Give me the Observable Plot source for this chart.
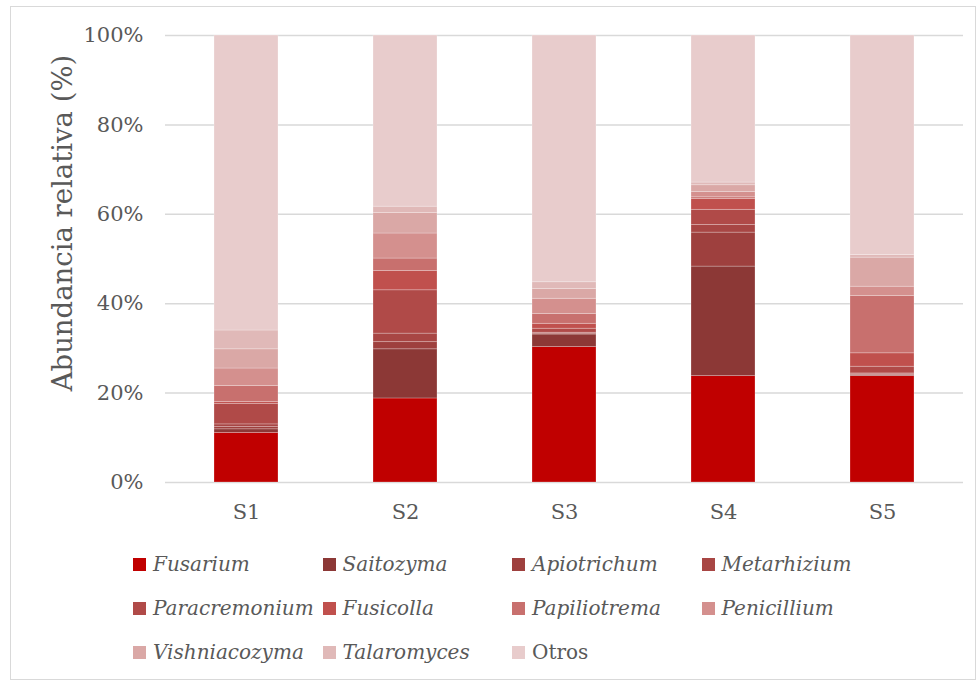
<!DOCTYPE html>
<html>
<head>
<meta charset="utf-8">
<script src="https://cdn.jsdelivr.net/npm/d3@7"></script>
<script src="https://cdn.jsdelivr.net/npm/@observablehq/plot@0.6"></script>
<style>
  html, body { margin: 0; padding: 0; background: #fff; }
  #wrap { position: relative; width: 980px; height: 683px; overflow: hidden; font-family: "DejaVu Serif", serif; color: #595959; }
  #frame { position: absolute; left: 10px; top: 6px; width: 966px; height: 674px; border: 1px solid #d9d9d9; box-sizing: border-box; }
  #chart { position: absolute; left: 0; top: 0; }
  #ytitle { position: absolute; left: 62px; top: 223px; transform: translate(-50%, -50%) rotate(-90deg); white-space: nowrap; font-size: 27.5px; }
  #legend { position: absolute; left: 133px; top: 0; }
  .item { position: absolute; display: flex; align-items: center; white-space: nowrap; font-size: 20px; transform: translateY(-50%); }
  .sw { width: 13px; height: 13px; margin-right: 7px; flex: none; }
  .it { font-style: italic; }
</style>
</head>
<body>
<div id="wrap">
  <div id="frame"></div>
  <div id="chart"></div>
  <div id="ytitle">Abundancia relativa (%)</div>
  <div id="legend"></div>
</div>
<script>
// Samples and genera (stacking order from bottom to top)
const samples = ["S1", "S2", "S3", "S4", "S5"];
const genera = ["Fusarium", "Saitozyma", "Apiotrichum", "Metarhizium", "Paracremonium",
  "Fusicolla", "Papiliotrema", "Penicillium", "Vishniacozyma", "Talaromyces", "Otros"];
const colors = ["#c00000", "#8c3836", "#9e403e", "#a84644", "#b04a48",
  "#c0504d", "#c8706e", "#d4908e", "#daa8a6", "#e0b9b8", "#e8cccc"];

// Relative abundance (%) per sample, S1..S5
const fusarium      = [11.1, 18.8, 30.3, 23.8, 23.8];
const saitozyma     = [0.8, 11.0, 2.8, 24.5, 0.2];
const apiotrichum   = [0.5, 1.6, 0.2, 7.6, 0.2];
const metarhizium   = [0.6, 1.9, 0.2, 1.7, 0.2];
const paracremonium = [4.6, 9.7, 0.9, 3.4, 1.5];
const fusicolla     = [0.4, 4.3, 1.1, 2.4, 3.0];
const papiliotrema  = [3.6, 2.8, 2.2, 0.4, 12.8];
const penicillium   = [3.9, 5.6, 3.4, 1.2, 2.1];
const vishniacozyma = [4.3, 4.6, 2.2, 1.5, 6.5];
const talaromyces   = [4.2, 1.4, 1.5, 0.6, 0.6];
const otros         = [66.0, 38.3, 55.2, 32.9, 49.1];

const yTicks = [0, 20, 40, 60, 80, 100];

const series = [fusarium, saitozyma, apiotrichum, metarhizium, paracremonium,
  fusicolla, papiliotrema, penicillium, vishniacozyma, talaromyces, otros];

const rows = [];
genera.forEach((g, gi) => {
  samples.forEach((s, si) => rows.push({sample: s, genus: g, value: series[gi][si]}));
});

const chart = Plot.plot({
  width: 980,
  height: 530,
  marginLeft: 165,
  marginRight: 17,
  marginTop: 35,
  marginBottom: 48,
  style: {fontFamily: "DejaVu Serif, serif", fontSize: "21px", color: "#595959", background: "transparent"},
  x: {domain: samples, paddingInner: 0.6, paddingOuter: 0.3, label: null},
  y: {domain: [0, 100], label: null},
  color: {domain: genera, range: colors},
  marks: [
    Plot.ruleY(yTicks, {stroke: "#d9d9d9", strokeWidth: 1.5}),
    Plot.barY(rows, {x: "sample", y: "value", fill: "genus", order: genera,
      stroke: "#ffffff", strokeOpacity: 0.3, strokeWidth: 0.8}),
    Plot.axisY(yTicks, {tickSize: 0, tickPadding: 22, tickFormat: d => d + "%", fill: "#595959", fontSize: 21}),
    Plot.axisX({tickSize: 0, tickPadding: 22, fill: "#595959", fontSize: 21})
  ]
});
document.getElementById("chart").appendChild(chart);

// Legend: 4 columns, 3 rows
const legend = document.getElementById("legend");
const colW = 189.5, rowY = [564, 608, 652];
genera.forEach((g, i) => {
  const item = document.createElement("div");
  item.className = "item";
  item.style.left = (i % 4) * colW + "px";
  item.style.top = rowY[Math.floor(i / 4)] + "px";
  const sw = document.createElement("span");
  sw.className = "sw";
  sw.style.background = colors[i];
  const tx = document.createElement("span");
  tx.textContent = g;
  if (g !== "Otros") tx.className = "it";
  item.appendChild(sw);
  item.appendChild(tx);
  legend.appendChild(item);
});
</script>
</body>
</html>
